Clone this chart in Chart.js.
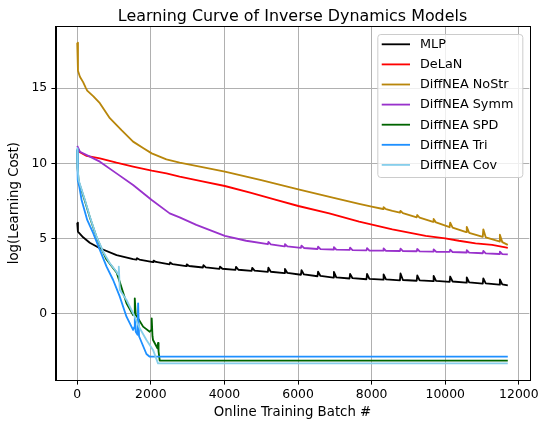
<!DOCTYPE html>
<html>
<head>
<meta charset="utf-8">
<script src="https://cdn.jsdelivr.net/npm/chart.js@4/dist/chart.umd.min.js"></script>
<style>
  html, body { margin: 0; padding: 0; background: #fff; }
  #chart { display: block; }
</style>
</head>
<body>
<canvas id="chart" width="542" height="421"></canvas>
<script>
// Learning curves (x = online training batch, y = log cost)
const chartTitle = 'Learning Curve of Inverse Dynamics Models';
const seriesNames = ['MLP', 'DeLaN', 'DiffNEA NoStr', 'DiffNEA Symm', 'DiffNEA SPD', 'DiffNEA Tri', 'DiffNEA Cov'];
const seriesColors = ['#000000', '#ff0000', '#b8860b', '#9932cc', '#006400', '#1e90ff', '#87ceeb'];

const xTicks = [0, 2000, 4000, 6000, 8000, 10000, 12000];
const yTicks = [0, 5, 10, 15];

const mlpX = [0, 19, 160, 340, 615, 1070, 1520,
  1610, 1625, 1690, 2060, 2075, 2140, 2510, 2525, 2590, 2960, 2975, 3040,
  3415, 3430, 3495, 3865, 3880, 3945, 4300, 4315, 4380, 4740, 4755, 4820,
  5180, 5195, 5260, 5630, 5645, 5710, 6080, 6095, 6160, 6530, 6545, 6610,
  6960, 6975, 7040, 7400, 7415, 7480, 7860, 7875, 7940, 8310, 8325, 8390,
  8770, 8785, 8850, 9225, 9240, 9305, 9670, 9685, 9750, 10120, 10135, 10200,
  10570, 10585, 10650, 11020, 11035, 11100, 11470, 11485, 11550, 11700];
const mlpY = [6.05, 5.45, 5.08, 4.72, 4.35, 3.9, 3.63,
  3.59, 3.69, 3.6, 3.43, 3.53, 3.44, 3.28, 3.4, 3.29, 3.16, 3.28, 3.17,
  3.07, 3.22, 3.08, 2.98, 3.13, 2.99, 2.91, 3.11, 2.92, 2.85, 3.05, 2.86,
  2.78, 3.06, 2.79, 2.70, 2.98, 2.71, 2.59, 2.89, 2.61, 2.49, 2.79, 2.51,
  2.40, 2.78, 2.42, 2.34, 2.64, 2.36, 2.29, 2.64, 2.31, 2.26, 2.61, 2.28,
  2.22, 2.67, 2.24, 2.19, 2.54, 2.21, 2.16, 2.51, 2.18, 2.12, 2.47, 2.14,
  2.06, 2.41, 2.08, 2.00, 2.35, 2.02, 1.93, 2.28, 1.95, 1.88];

const delanX = [0, 255, 615, 1067, 1518, 2024, 2423, 2783, 3400, 4011, 4700, 5404,
  6008, 6848, 7661, 8563, 9469, 10000, 10371, 10824, 11274, 11637, 11700];
const delanY = [10.84, 10.49, 10.33, 10.04, 9.78, 9.51, 9.33, 9.11, 8.8, 8.49, 8.05, 7.56,
  7.16, 6.67, 6.12, 5.61, 5.17, 5.01, 4.85, 4.68, 4.57, 4.41, 4.38];

const noStrX = [0, 20, 73, 160, 236, 271, 440, 615, 886, 1203, 1518, 1800, 2024, 2423,
  2783, 3400, 4011, 5000, 6008, 7000, 7661, 8000, 8310, 8325, 8390, 8563, 8770, 8785,
  8850, 9225, 9240, 9305, 9670, 9685, 9750, 10120, 10135, 10200, 10570, 10585, 10650,
  11020, 11035, 11100, 11470, 11485, 11550, 11700];
const noStrY = [18.02, 16.16, 15.76, 15.4, 15.0, 14.83, 14.45, 14.0, 13.0, 12.2, 11.44, 11.0,
  10.66, 10.26, 10.04, 9.75, 9.44, 8.88, 8.27, 7.68, 7.3, 7.12, 6.96, 7.08, 6.95, 6.83,
  6.72, 6.84, 6.68, 6.41, 6.56, 6.38, 6.1, 6.3, 6.07, 5.75, 6.05, 5.72, 5.42, 5.77, 5.38,
  5.11, 5.61, 5.08, 4.8, 5.25, 4.76, 4.58];

const symmX = [0, 73, 344, 615, 1067, 1518, 2024, 2512, 2783, 3236, 4011, 4591,
  5180, 5195, 5260, 5630, 5645, 5710, 6080, 6095, 6160, 6530, 6545, 6610, 6960, 6975,
  7040, 7400, 7415, 7480, 7860, 7875, 7940, 8310, 8325, 8390, 8770, 8785, 8850, 9225,
  9240, 9305, 9670, 9685, 9750, 10120, 10135, 10200, 10570, 10585, 10650, 11020, 11035,
  11100, 11470, 11485, 11550, 11700];
const symmY = [11.15, 10.77, 10.44, 10.11, 9.33, 8.56, 7.56, 6.67, 6.4, 5.9, 5.17, 4.85,
  4.62, 4.77, 4.61, 4.48, 4.63, 4.47, 4.38, 4.53, 4.37, 4.3, 4.45, 4.29, 4.27, 4.42,
  4.26, 4.24, 4.39, 4.23, 4.21, 4.36, 4.2, 4.19, 4.34, 4.18, 4.17, 4.32, 4.16, 4.15,
  4.3, 4.14, 4.13, 4.28, 4.12, 4.11, 4.26, 4.1, 4.07, 4.22, 4.06, 4.02, 4.17,
  4.01, 3.97, 4.12, 3.96, 3.94];

const spdX = [0, 10, 38, 209, 344, 526, 705, 797, 1067, 1157, 1339, 1518, 1545, 1564,
  1590, 1627, 1790, 1970, 2010, 2024, 2045, 2060, 2180, 2195, 2210, 2241, 11700];
const spdY = [10.9, 9.7, 8.8, 7.5, 6.4, 5.08, 4.08, 3.6, 2.75, 2.1, 0.69, -0.09, 0.0, 1.02,
  -0.1, -0.2, -0.86, -1.2, -1.1, -0.31, -1.5, -1.75, -2.3, -1.95, -2.5, -3.12, -3.12];

const triX = [0, 10, 19, 60, 119, 271, 434, 615, 797, 976, 1157, 1339, 1518, 1550, 1565,
  1590, 1640, 1655, 1680, 1881, 1970, 11700];
const triY = [10.9, 9.6, 8.89, 8.4, 7.56, 6.23, 5.35, 4.24, 3.13, 2.24, 1.13, -0.2, -1.08,
  -0.9, -0.25, -1.2, -1.4, 0.69, -1.5, -2.68, -2.86, -2.86];

const covX = [0, 10, 38, 209, 344, 526, 705, 886, 1067, 1110, 1130, 1157, 1339, 1518,
  1700, 1881, 2060, 2195, 11700];
const covY = [11.0, 9.78, 8.89, 7.56, 6.45, 5.12, 4.12, 3.35, 2.79, 2.6, 3.13, 1.58, 0.91,
  0.03, -0.97, -1.75, -2.41, -3.3, -3.3];

const seriesX = [mlpX, delanX, noStrX, symmX, spdX, triX, covX];
const seriesY = [mlpY, delanY, noStrY, symmY, spdY, triY, covY];

const FONT = 'DejaVu Sans';

// matplotlib style box around the axes, plus the title centred over the axes
const framePlugin = {
  id: 'frame',
  afterDatasetsDraw(chart) {
    const { ctx, chartArea: a } = chart;
    ctx.save();
    ctx.strokeStyle = '#000';
    ctx.lineWidth = 1;
    ctx.strokeRect(Math.round(a.left) + 0.5, Math.round(a.top) + 0.5,
      Math.round(a.right - a.left), Math.round(a.bottom - a.top));
    ctx.font = '15.9px "' + FONT + '"';
    ctx.fillStyle = '#000';
    ctx.textAlign = 'center';
    ctx.textBaseline = 'alphabetic';
    ctx.fillText(chartTitle, (a.left + a.right) / 2, a.top - 5.3);
    ctx.restore();
  }
};

// legend drawn inside the axes, upper right, like matplotlib
const innerLegend = {
  id: 'innerLegend',
  afterDraw(chart) {
    const { ctx, chartArea: a } = chart;
    const sets = chart.data.datasets;
    const rowH = 20.1;
    const boxW = 145, boxH = 143;
    const x0 = a.right - 7 - boxW;
    const y0 = a.top + 8;
    ctx.save();
    ctx.beginPath();
    ctx.roundRect(x0 + 0.5, y0 + 0.5, boxW, boxH, 3);
    ctx.fillStyle = 'rgba(255,255,255,0.8)';
    ctx.fill();
    ctx.strokeStyle = '#cccccc';
    ctx.lineWidth = 1;
    ctx.stroke();
    ctx.font = '12.8px "' + FONT + '"';
    ctx.textBaseline = 'middle';
    ctx.textAlign = 'left';
    sets.forEach((ds, i) => {
      const cy = y0 + 10.3 + i * rowH;
      ctx.beginPath();
      ctx.moveTo(x0 + 4.4, cy);
      ctx.lineTo(x0 + 32.7, cy);
      ctx.strokeStyle = ds.borderColor;
      ctx.lineWidth = 1.83;
      ctx.stroke();
      ctx.fillStyle = '#000';
      ctx.fillText(ds.label, x0 + 42.7, cy + 0.5);
    });
    ctx.restore();
  }
};

const datasets = seriesNames.map((name, i) => ({
  label: name,
  data: seriesX[i].map((x, k) => ({ x: x, y: seriesY[i][k] })),
  borderColor: seriesColors[i],
  backgroundColor: seriesColors[i],
  borderWidth: 1.83,
  pointRadius: 0,
  tension: 0,
  fill: false,
  borderJoinStyle: 'round',
  order: seriesNames.length - i   // later series on top, as in matplotlib
}));

new Chart(document.getElementById('chart'), {
  type: 'line',
  data: { datasets: datasets },
  plugins: [framePlugin, innerLegend],
  options: {
    responsive: false,
    animation: false,
    devicePixelRatio: 1,
    layout: { padding: { left: 0, right: 11.7, top: 26, bottom: 0 } },
    plugins: {
      legend: { display: false },
      tooltip: { enabled: false },
      title: { display: false }
    },
    scales: {
      x: {
        type: 'linear',
        min: -585,
        max: 12285,
        afterBuildTicks: (s) => { s.ticks = xTicks.map(v => ({ value: v })); },
        afterFit: (s) => { s.height = 40.7; },
        grid: { color: '#b0b0b0', lineWidth: 1, tickColor: '#000', tickLength: 4.3 },
        border: { color: '#000', width: 1 },
        ticks: {
          color: '#000', padding: 3.2, maxRotation: 0,
          font: { family: FONT, size: 12.4 },
          callback: (v) => String(v)
        },
        title: {
          display: true, text: 'Online Training Batch #', color: '#000',
          font: { family: FONT, size: 13.3, lineHeight: 1.2 },
          padding: { top: 0, bottom: 0.3 }
        }
      },
      y: {
        type: 'linear',
        min: -4.43,
        max: 19.13,
        afterBuildTicks: (s) => { s.ticks = yTicks.map(v => ({ value: v })); },
        afterFit: (s) => { s.width = 55.7; },
        grid: { color: '#b0b0b0', lineWidth: 1, tickColor: '#000', tickLength: 4.3 },
        border: { color: '#000', width: 1 },
        ticks: {
          color: '#000', padding: 4.2,
          font: { family: FONT, size: 12.4 },
          callback: (v) => String(v)
        },
        title: {
          display: true, text: 'log(Learning Cost)', color: '#000',
          font: { family: FONT, size: 13.3, lineHeight: 1.2 },
          padding: { top: 7, bottom: 0 }
        }
      }
    }
  }
});
</script>
</body>
</html>
